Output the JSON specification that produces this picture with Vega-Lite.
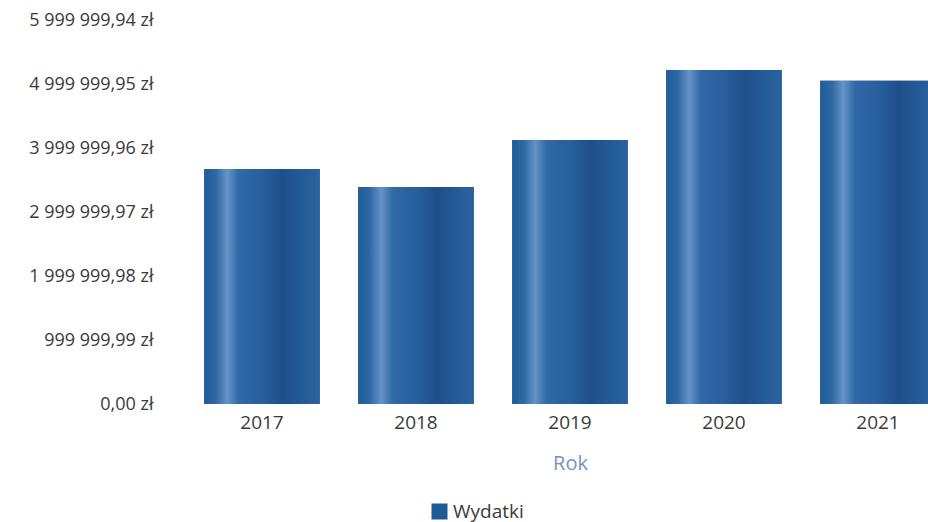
{
  "$schema": "https://vega.github.io/schema/vega-lite/v6.json",
  "width": 743,
  "height": 384,
  "autosize": "none",
  "padding": {"left": 185, "top": 20, "right": 0, "bottom": 118},
  "background": "white",
  "config": {"view": {"stroke": null}, "font": "Open Sans"},
  "data": {
    "values": [
      {"Rok": "2017", "Wydatki": 3670000},
      {"Rok": "2018", "Wydatki": 3390000},
      {"Rok": "2019", "Wydatki": 4125000},
      {"Rok": "2020", "Wydatki": 5220000},
      {"Rok": "2021", "Wydatki": 5050000}
    ]
  },
  "encoding": {
    "x": {
      "field": "Rok",
      "type": "ordinal",
      "scale": {"range": [0, 770], "paddingInner": 0.25, "paddingOuter": 0.125},
      "axis": {
        "labelAngle": 0,
        "domain": false,
        "ticks": false,
        "labelPadding": 9,
        "labelFontSize": 19,
        "labelColor": "#3a3a3a",
        "title": "Rok",
        "titleColor": "#7b8fcc",
        "titleFontSize": 20,
        "titleFontWeight": "normal",
        "titlePadding": 21,
        "titleX": 385
      }
    },
    "y": {
      "field": "Wydatki",
      "type": "quantitative",
      "scale": {"domain": [0, 5999999.94], "nice": false},
      "axis": {
        "values": [0, 999999.99, 1999999.98, 2999999.97, 3999999.96, 4999999.95, 5999999.94],
        "labelExpr": "replace(replace(format(datum.value, ',.2f'), regexp(',', 'g'), ' '), '.', ',') + ' zł'",
        "domain": false,
        "ticks": false,
        "grid": false,
        "labelPadding": 32,
        "labelFontSize": 18,
        "labelColor": "#3a3a3a",
        "title": null
      }
    }
  },
  "layer": [
    {
      "mark": {"type": "bar"},
      "encoding": {
        "color": {
          "datum": "Wydatki",
          "scale": {"range": ["#1f5996"]},
          "legend": {
            "orient": "none",
            "legendX": 245,
            "legendY": 482,
            "title": null,
            "symbolType": "square",
            "symbolSize": 256,
            "symbolStrokeWidth": 0,
            "labelFontSize": 19,
            "labelColor": "#3a3a3a"
          }
        }
      }
    },
    {
      "mark": {
        "type": "bar",
        "color": {
          "gradient": "linear",
          "x1": 0, "x2": 1, "y1": 0, "y2": 0,
          "stops": [
            {"offset": 0, "color": "#215b97"},
            {"offset": 0.1, "color": "#2e68a5"},
            {"offset": 0.2, "color": "#6593c6"},
            {"offset": 0.3, "color": "#2f69a6"},
            {"offset": 0.5, "color": "#285f9c"},
            {"offset": 0.68, "color": "#1e4f8b"},
            {"offset": 0.85, "color": "#245a97"},
            {"offset": 1, "color": "#2a62a0"}
          ]
        }
      }
    }
  ]
}
